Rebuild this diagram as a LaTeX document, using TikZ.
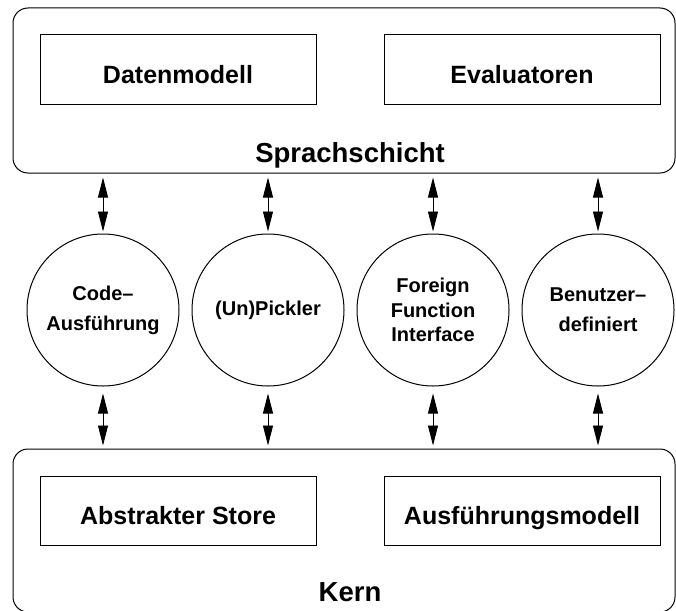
\documentclass[tikz,border=0pt]{standalone}
\usepackage{fontspec}
\setmainfont{Liberation Sans}
\usetikzlibrary{arrows.meta}
\begin{document}
\begin{tikzpicture}[x=1pt,y=-1pt,
  layer/.style={draw, line width=1pt, rounded corners=15pt, minimum width=662pt, inner sep=0pt},
  box/.style={draw, line width=1pt, minimum width=276pt, minimum height=69pt, inner sep=0pt,
    text height=27pt, text depth=0pt, font=\bfseries\fontsize{25}{30}\selectfont},
  title/.style={anchor=base, inner sep=0pt, font=\bfseries\fontsize{27.5}{33}\selectfont},
  unit/.style={draw, circle, line width=1pt, minimum size=152pt, inner sep=0pt, align=center,
    font=\bfseries\fontsize{20}{24.5}\selectfont},
  link/.style={{Triangle[length=20pt,width=10pt]}-{Triangle[length=20pt,width=10pt]}, line width=0.9pt}
]
\clip (0,0) rectangle (676,610);

% the two layers
\node[layer, minimum height=165pt] (spr) at (344,90.5) {};
\node[layer, minimum height=163pt] (kern) at (344,530.5) {};

% components of the language layer
\node[box] (dm) at (178,69.5) {Datenmodell};
\node[box] (ev) at (522,69.5) {Evaluatoren};
\node[title] (sprl) at (350,162) {Sprachschicht};

% components of the core
\node[box] (as) at (178,511) {Abstrakter Store};
\node[box] (am) at (522,511) {Ausführungsmodell};
\node[title] (kernl) at (350,601) {Kern};

% services between the layers
\node[unit] (c1) at (103,310) {Code–\\[5.5pt]Ausführung};
\node[unit] (c2) at (268,310) {(Un)Pickler};
\node[unit] (c3) at (433,310) {Foreign\\Function\\Interface};
\node[unit] (c4) at (598,310) {Benutzer–\\[5.5pt]definiert};

% connections to both layers
\foreach \c in {c1,c2,c3,c4} {
  \draw[link, shorten <=4pt, shorten >=2pt] (\c.north |- spr.south) -- (\c.north);
  \draw[link, shorten <=7pt, shorten >=3pt] (\c.south) -- (\c.south |- kern.north);
}
\end{tikzpicture}
\end{document}
